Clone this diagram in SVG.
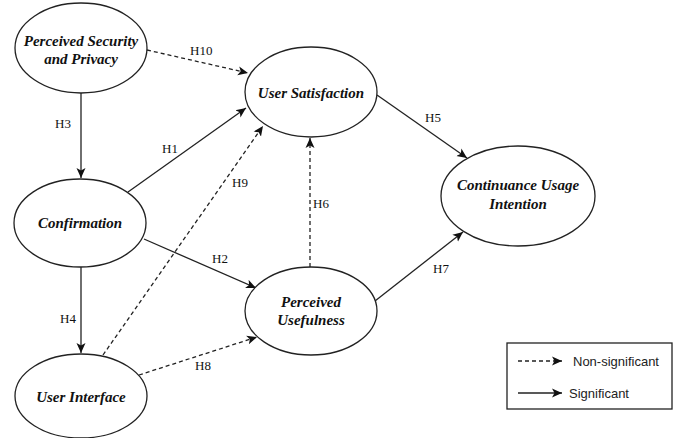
<svg xmlns="http://www.w3.org/2000/svg" width="678" height="438" viewBox="0 0 678 438">
<defs>
<marker id="ah" viewBox="0 0 10 10" refX="10" refY="5" markerWidth="10" markerHeight="10" markerUnits="userSpaceOnUse" orient="auto">
<path d="M0,0.5 L10,5 L0,9.5 L2.5,5 Z" fill="#111"/>
</marker>
<style>
.node ellipse{fill:#fff;stroke:#222;stroke-width:1.3}
.nt{font-family:"Liberation Serif",serif;font-weight:bold;font-style:italic;font-size:15px;fill:#111;text-anchor:middle}
.edge{stroke:#222;stroke-width:1.3;fill:none;marker-end:url(#ah)}
.dash{stroke-dasharray:4 3}
.lbl{font-family:"Liberation Serif",serif;font-size:13px;fill:#111}
.lg{font-family:"Liberation Sans",Arial,sans-serif;font-size:13px;fill:#222}
</style>
</defs>
<rect width="678" height="438" fill="#fff"/>
<g id="connectors">
<line class="edge dash" x1="147" y1="50" x2="248" y2="73"/>
<line class="edge" x1="81" y1="93" x2="81" y2="178"/>
<line class="edge" x1="128" y1="192" x2="246" y2="108"/>
<line class="edge dash" x1="103" y1="355" x2="263" y2="126"/>
<line class="edge dash" x1="310" y1="267" x2="310" y2="138"/>
<line class="edge" x1="377" y1="95" x2="467" y2="158"/>
<line class="edge" x1="144" y1="239" x2="256" y2="288"/>
<line class="edge" x1="375" y1="301" x2="463" y2="232"/>
<line class="edge dash" x1="139" y1="375" x2="257" y2="337"/>
<line class="edge" x1="81" y1="267" x2="81" y2="353"/>
<text class="lbl" x="190" y="55">H10</text>
<text class="lbl" x="55" y="128">H3</text>
<text class="lbl" x="162" y="153">H1</text>
<text class="lbl" x="232" y="187">H9</text>
<text class="lbl" x="313" y="208">H6</text>
<text class="lbl" x="425" y="122">H5</text>
<text class="lbl" x="212" y="263">H2</text>
<text class="lbl" x="433" y="273">H7</text>
<text class="lbl" x="195" y="370">H8</text>
<text class="lbl" x="60" y="323">H4</text>
</g>
<g id="n-psp" class="node">
<ellipse cx="81" cy="48" rx="66" ry="45"/>
<text class="nt" x="81" y="46">Perceived Security</text>
<text class="nt" x="81" y="64">and Privacy</text>
</g>
<g id="n-us" class="node">
<ellipse cx="311" cy="92" rx="66" ry="45"/>
<text class="nt" x="311" y="98">User Satisfaction</text>
</g>
<g id="n-conf" class="node">
<ellipse cx="80" cy="223" rx="66" ry="44"/>
<text class="nt" x="80" y="228">Confirmation</text>
</g>
<g id="n-pu" class="node">
<ellipse cx="311" cy="311" rx="66" ry="44"/>
<text class="nt" x="311" y="307">Perceived</text>
<text class="nt" x="311" y="325">Usefulness</text>
</g>
<g id="n-ui" class="node">
<ellipse cx="81" cy="396" rx="66" ry="42"/>
<text class="nt" x="81" y="402">User Interface</text>
</g>
<g id="n-cui" class="node">
<ellipse cx="518" cy="196" rx="77" ry="50"/>
<text class="nt" x="518" y="190">Continuance Usage</text>
<text class="nt" x="518" y="209">Intention</text>
</g>
<g id="legend">
<rect x="507" y="343" width="165" height="66" fill="#fff" stroke="#222" stroke-width="1.3"/>
<line class="edge dash" x1="518" y1="361" x2="562" y2="361"/>
<line class="edge" x1="518" y1="393" x2="562" y2="393"/>
<text class="lg" x="573" y="366">Non-significant</text>
<text class="lg" x="569" y="398">Significant</text>
</g>
</svg>
